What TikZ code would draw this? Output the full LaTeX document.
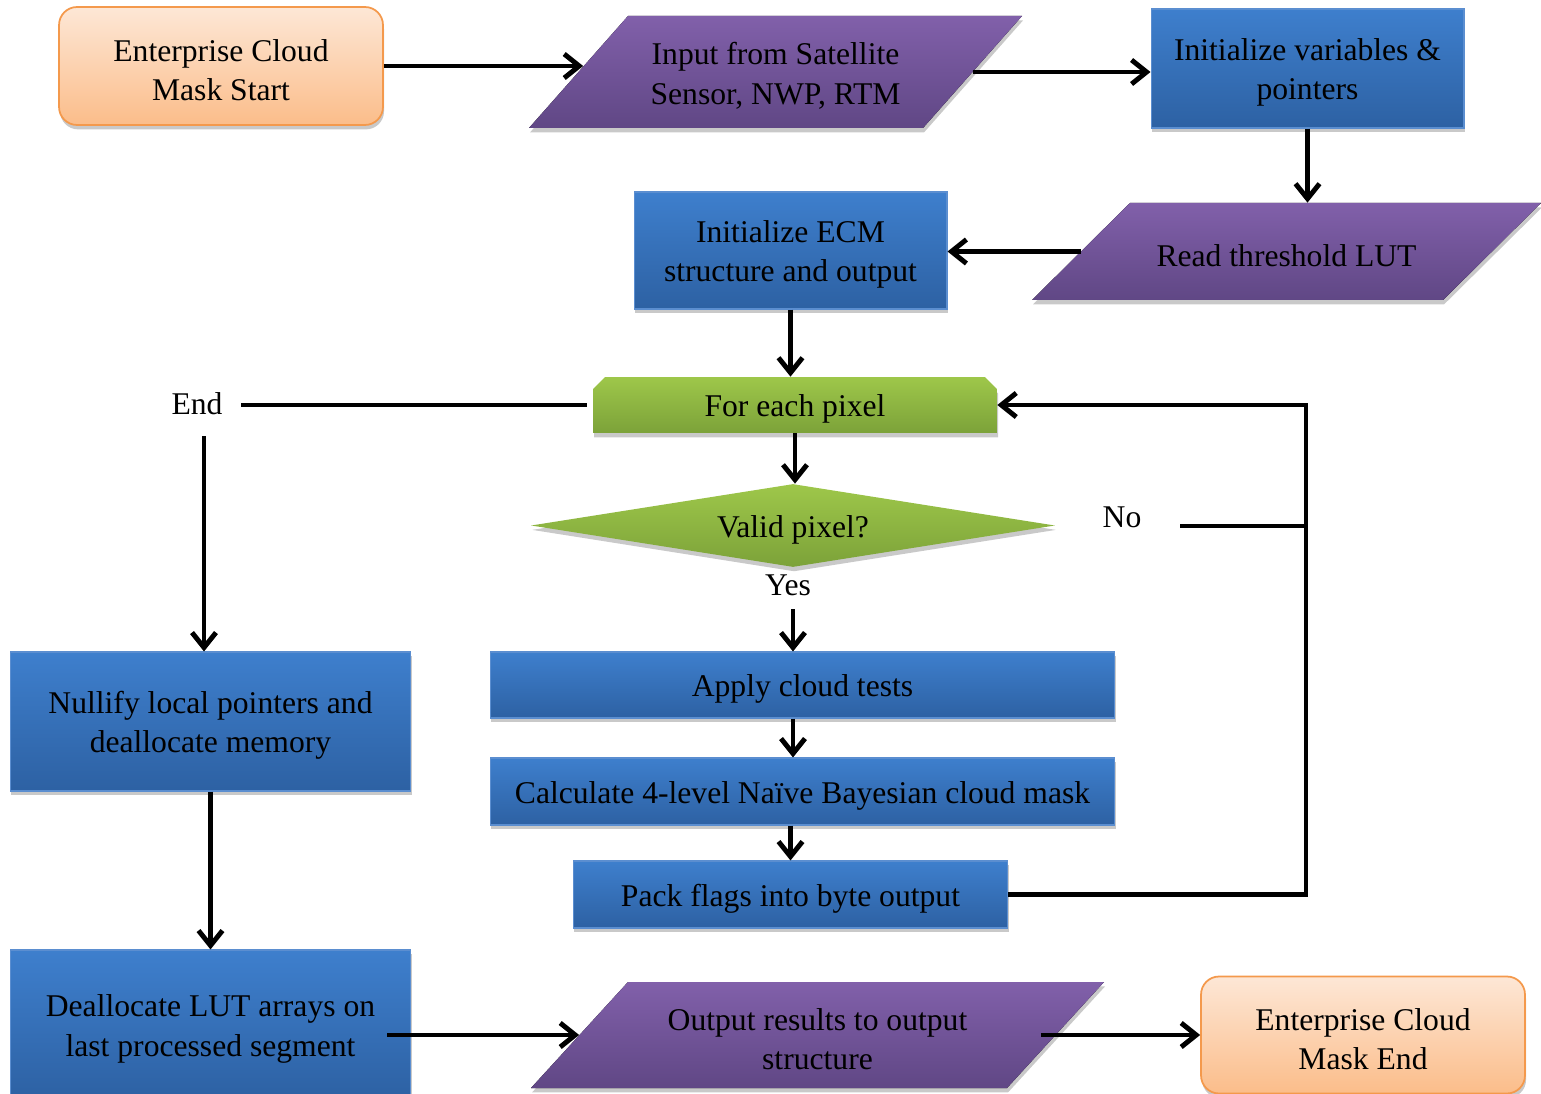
\documentclass[tikz,border=0pt]{standalone}
\usepackage{fontspec}
\setmainfont{Liberation Serif}
\usetikzlibrary{arrows.meta,shapes.geometric,shapes.misc,shadows,calc}
\definecolor{bluetop}{HTML}{3E7FCD}
\definecolor{bluebot}{HTML}{2D61A3}
\definecolor{blueedge}{HTML}{5B8ED0}
\definecolor{ortop}{HTML}{FDE7D6}
\definecolor{orbot}{HTML}{FBBD8A}
\definecolor{oredge}{HTML}{F4994C}
\definecolor{purtop}{HTML}{8160AA}
\definecolor{purbot}{HTML}{604785}
\definecolor{grtop}{HTML}{9EC74A}
\definecolor{grbot}{HTML}{7CA239}
\newcommand\st{\rule{0pt}{17pt}}
% name, cx, cy, total width, height, slant offset, text (all in px units)
\newcommand\iopara[7]{%
  \fill[iofill] ({#2-#4/2},{#3+#5/2}) -- ({#2-#4/2+#6},{#3-#5/2}) -- ({#2+#4/2},{#3-#5/2}) -- ({#2+#4/2-#6},{#3+#5/2}) -- cycle;
  \node[iotext, minimum width={(#4-#6)*0.02cm}, minimum height={#5*0.02cm}] (#1) at (#2,#3) {\st#7};}
\begin{document}
\begin{tikzpicture}[x=0.02cm,y=-0.02cm,
  every node/.style={font=\fontsize{18}{22.5}\selectfont, text=black},
  sh/.style={drop shadow={shadow xshift=0.6pt,shadow yshift=-2.5pt,opacity=0.3,fill=black!70}},
  procbox/.style={rectangle, draw=blueedge, line width=0.6pt, top color=bluetop, bottom color=bluebot, align=center, inner sep=2pt, sh},
  termbox/.style={rectangle, rounded corners=0.36cm, draw=oredge, line width=1pt, top color=ortop, bottom color=orbot, align=center, sh},
  iofill/.style={top color=purtop, bottom color=purbot, sh},
  iotext/.style={rectangle, draw=none, align=center, inner sep=0pt},
  loopbox/.style={chamfered rectangle, chamfered rectangle corners={north west,north east}, chamfered rectangle xsep=0.12cm, chamfered rectangle ysep=0.12cm, draw=none, top color=grtop, bottom color=grbot, align=center, inner sep=0pt, sh},
  decbox/.style={diamond, shape aspect=6.3, draw=none, top color=grtop, bottom color=grbot, align=center, inner sep=0pt, sh},
  lbl/.style={inner sep=2pt},
  conn/.style={line width=2.8pt, draw=black},
  arr/.style={conn, -{Straight Barb[length=3mm,width=4.8mm]}}
]
\useasboundingbox (0,0) rectangle (1541,1094);

% nodes
\node[termbox, minimum width=6.48cm, minimum height=2.36cm] (start) at (221,66) {\st Enterprise Cloud\\Mask Start};
\iopara{in}{775.5}{72}{493}{112}{99}{Input from Satellite\\Sensor, NWP, RTM}
\node[procbox, minimum width=6.26cm, minimum height=2.38cm] (init) at (1307.5,68.5) {\st Initialize variables \&\\pointers};
\iopara{lut}{1286.5}{251.5}{509}{97}{98}{Read threshold LUT}
\node[procbox, minimum width=6.26cm, minimum height=2.34cm] (ecm) at (790.5,250.5) {\st Initialize ECM\\structure and output};
\node[loopbox, minimum width=8.08cm, minimum height=1.12cm] (each) at (795,405) {\st For each pixel};
\node[decbox, minimum width=10.48cm, minimum height=1.66cm] (valid) at (793,525.5) {\st Valid pixel?};
\node[procbox, minimum width=12.5cm, minimum height=1.32cm] (apply) at (802.5,685) {\st Apply cloud tests};
\node[procbox, minimum width=12.5cm, minimum height=1.34cm] (calc) at (802.5,791.5) {\st Calculate 4-level Naïve Bayesian cloud mask};
\node[procbox, minimum width=8.7cm, minimum height=1.34cm] (pack) at (790.5,894.5) {\st Pack flags into byte output};
\node[procbox, minimum width=8.02cm, minimum height=2.78cm] (null) at (210.5,721.5) {\st Nullify local pointers and\\deallocate memory};
\node[procbox, minimum width=8.02cm, minimum height=3cm] (dealloc) at (210.5,1025) {\st Deallocate LUT arrays on\\last processed segment};
\iopara{out}{817.5}{1035}{573}{106}{97}{Output results to output\\structure}
\node[termbox, minimum width=6.48cm, minimum height=2.34cm] (end) at (1363,1035) {\st Enterprise Cloud\\Mask End};

\node[lbl] (endl) at (197,404) {End};
\node[lbl] (nol) at (1122,517) {No};
\node[lbl] (yesl) at (788,585) {Yes};

\coordinate (loop) at (1306,526);
\coordinate (nostart) at (1180,526);

% connectors
\draw[arr, shorten >=-0.1cm] (start.east) -- (start.east -| in.west);
\draw[arr] (in.east) -- (in.east -| init.west);
\draw[arr] (init.south) -- (init.south |- lut.north);
\draw[arr] (lut.west) -- (lut.west -| ecm.east);
\draw[arr] (ecm.south) -- (ecm.south |- each.north);
\draw[conn, shorten <=0.12cm, shorten >=0.3cm] (each.west) -- (endl.east |- each.west);
\draw[arr, shorten <=0.35cm] ([xshift=0.14cm]endl.south) -- ([xshift=0.14cm]endl.south |- null.north);
\draw[arr] (each.south) -- (each.south |- valid.north);
\draw[conn] (nostart) -- (loop);
\draw[arr] (pack.east) -| (loop) |- (each.east);
\draw[arr, shorten <=0.2cm] (valid.south |- yesl.south) -- (valid.south |- apply.north);
\draw[arr] (valid.south |- apply.south) -- (valid.south |- calc.north);
\draw[arr] (pack.north |- calc.south) -- (pack.north);
\draw[arr] (null.south) -- (dealloc.north);
\draw[arr] ([xshift=-0.48cm]dealloc.east |- out.west) -- (out.west);
\draw[arr] ([xshift=-0.3cm]out.east) -- (end.west);
\end{tikzpicture}
\end{document}
